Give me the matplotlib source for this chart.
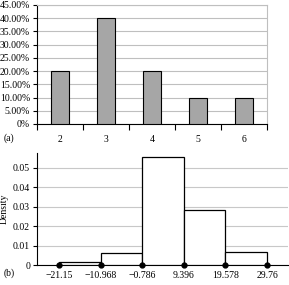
import matplotlib.pyplot as plt
import numpy as np

# panel (a): bar chart of percentages
categorias = ['2', '3', '4', '5', '6']
percentuais = [20, 40, 20, 10, 10]

# panel (b): density histogram
bordas = [-21.15, -10.968, -0.786, 9.396, 19.578, 29.76]
densidades = [0.0017, 0.0060, 0.0555, 0.0285, 0.0065]
rotulos_bordas = ['\u221221.15', '\u221210.968', '\u22120.786', '9.396', '19.578', '29.76']

plt.rcParams['font.family'] = ['Liberation Serif', 'DejaVu Serif']
plt.rcParams['font.size'] = 7

fig = plt.figure(figsize=(2.89, 2.85), dpi=100)

# ---------- (a) ----------
ax1 = fig.add_axes([0.128, 0.565, 0.796, 0.4175])
pos = np.arange(len(categorias))
ax1.bar(pos, percentuais, width=0.4, color='#a6a6a6', edgecolor='black', linewidth=0.8, zorder=3)
ax1.set_xlim(-0.5, len(categorias) - 0.5)
ax1.set_ylim(0, 45)
ax1.set_yticks(np.arange(0, 46, 5))
ax1.set_yticklabels(['0%'] + ['%.2f%%' % v for v in np.arange(5, 46, 5)])
ax1.set_xticks(pos)
ax1.set_xticklabels(categorias)
ax1.set_xticks(np.arange(-0.5, len(categorias), 1), minor=True)
ax1.tick_params(axis='x', which='major', length=0, pad=8)
ax1.tick_params(axis='x', which='minor', length=4, width=0.8, direction='out')
ax1.tick_params(axis='y', length=3, width=0.8, pad=2)
ax1.grid(axis='y', color='#bfbfbf', linewidth=0.8, zorder=0)
for s in ['top', 'right']:
    ax1.spines[s].set_color('#bfbfbf')
for s in ['left', 'bottom']:
    ax1.spines[s].set_color('black')
    ax1.spines[s].set_linewidth(0.8)
fig.text(0.012, 0.515, '(a)', fontsize=7, va='center')

# ---------- (b) ----------
ax2 = fig.add_axes([0.128, 0.070, 0.869, 0.393])
larguras = np.diff(bordas)
ax2.bar(bordas[:-1], densidades, width=larguras, align='edge', color='white',
        edgecolor='black', linewidth=0.9, zorder=3)
ax2.plot(bordas, [0] * len(bordas), 'o', color='black', markersize=3.5, clip_on=False, zorder=5)
ax2.set_xlim(-26.5, 34.9)
ax2.set_ylim(0, 0.0577)
ax2.set_yticks([0, 0.01, 0.02, 0.03, 0.04, 0.05])
ax2.set_yticklabels(['0', '0.01', '0.02', '0.03', '0.04', '0.05'])
ax2.set_xticks(bordas)
ax2.set_xticklabels(rotulos_bordas)
ax2.tick_params(axis='x', length=0, pad=4)
ax2.tick_params(axis='y', length=3, width=0.8, pad=2)
ax2.grid(axis='y', color='#c8c8c8', linewidth=0.8, zorder=0)
ax2.set_ylabel('Density', fontsize=7, labelpad=3)
ax2.spines['top'].set_visible(False)
ax2.spines['right'].set_visible(False)
ax2.spines['left'].set_linewidth(0.8)
ax2.spines['bottom'].set_linewidth(0.8)
fig.text(0.012, 0.040, '(b)', fontsize=7, va='center')

fig.savefig('out.png', dpi=100)
